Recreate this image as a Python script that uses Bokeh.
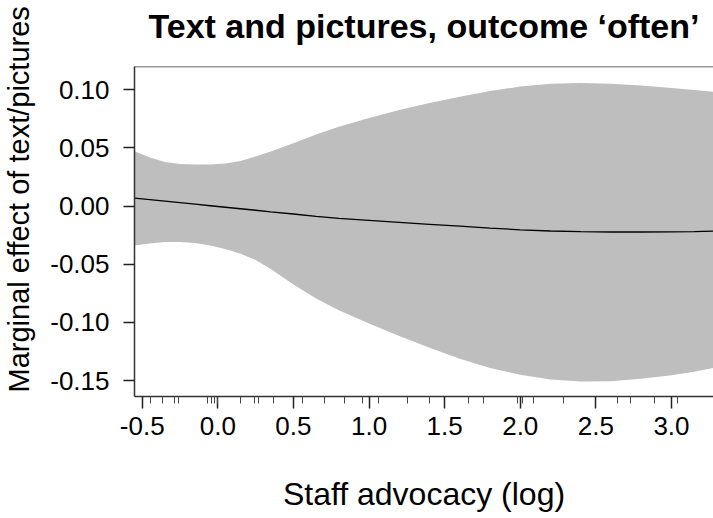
from bokeh.plotting import figure
from bokeh.models import Range1d, FixedTicker, Span, Title
from bokeh.embed import file_html
from bokeh.resources import INLINE

# ---- data ----
x_grid = [-0.55, -0.45, -0.35, -0.25, -0.15, -0.05, 0.05, 0.15, 0.25, 0.35,
          0.5, 0.65, 0.8, 1.0, 1.2, 1.4, 1.6, 1.8, 2.0, 2.2, 2.4, 2.6, 2.8,
          3.0, 3.15, 3.28]
upper = [0.0472, 0.0418, 0.0379, 0.0362, 0.0358, 0.0358, 0.0366, 0.0388,
         0.0427, 0.0470, 0.0540, 0.0615, 0.0681, 0.0757, 0.0825, 0.0887,
         0.0941, 0.0989, 0.1027, 0.1051, 0.1059, 0.1052, 0.1036, 0.1016,
         0.0999, 0.0982]
lower = [-0.0339, -0.0322, -0.0309, -0.0309, -0.0317, -0.0339, -0.0369,
         -0.0410, -0.0463, -0.0540, -0.0675, -0.0795, -0.0895, -0.1010,
         -0.1116, -0.1218, -0.1312, -0.1392, -0.1451, -0.1491, -0.1507,
         -0.1505, -0.1485, -0.1455, -0.1424, -0.1390]
effect = [0.0068, 0.0055, 0.0042, 0.0029, 0.0016, 0.0003, -0.0010, -0.0023,
          -0.0036, -0.0049, -0.0068, -0.0088, -0.0106, -0.0123, -0.0140,
          -0.0157, -0.0173, -0.0189, -0.0204, -0.0214, -0.0220, -0.0223,
          -0.0223, -0.0221, -0.0219, -0.0216]
rug = [-0.445, -0.364, -0.284, -0.262, -0.070, -0.042, -0.020, -0.004, 0.150,
       0.245, 0.267, 0.370, 0.558, 0.708, 0.840, 0.959, 1.065, 1.253, 1.400,
       1.656, 1.759, 1.980, 2.017, 2.090, 2.288, 2.641, 2.729, 2.890, 3.038]
x_ticks = [-0.5, 0.0, 0.5, 1.0, 1.5, 2.0, 2.5, 3.0]
y_ticks = [0.10, 0.05, 0.00, -0.05, -0.10, -0.15]

FONT = "Liberation Sans"

p = figure(width=713, height=518, output_backend="svg", toolbar_location=None,
           x_range=Range1d(-0.551, 3.278), y_range=Range1d(-0.1637, 0.1200),
           min_border_left=134, min_border_right=0, min_border_top=66,
           min_border_bottom=122)

p.title.text = "Text and pictures, outcome \u2018often\u2019"
p.title.text_font = FONT
p.title.text_font_style = "bold"
p.title.text_font_size = "34px"
p.title.text_color = "black"
p.title.align = "center"
p.title.vertical_align = "bottom"
p.title.standoff = 0
p.title.padding = dict(left=0, right=0, top=0, bottom=22)

p.grid.visible = False
p.outline_line_color = None
p.background_fill_color = "white"
p.border_fill_color = "white"

p.varea(x=x_grid, y1=lower, y2=upper, fill_color="#bebebe", fill_alpha=1.0)
p.line(x=x_grid, y=effect, line_color="black", line_width=1.3)

# top border of the box
p.add_layout(Span(location=0.1200, dimension="width", line_color="#333333",
                  line_width=1.5))

xa = p.xaxis[0]
xa.ticker = FixedTicker(ticks=x_ticks, minor_ticks=rug)
xa.major_label_overrides = {t: f"{t:.1f}" for t in x_ticks}
xa.axis_line_color = "#333333"
xa.axis_line_width = 1.5
xa.major_tick_line_color = "#222222"
xa.major_tick_line_width = 1.5
xa.major_tick_in = 0
xa.major_tick_out = 12
xa.minor_tick_line_color = "#444444"
xa.minor_tick_line_width = 1
xa.minor_tick_in = 0
xa.minor_tick_out = 7
xa.major_label_text_font = FONT
xa.major_label_text_font_size = "26px"
xa.major_label_text_color = "black"
xa.major_label_standoff = 8
xa.axis_label = "Staff advocacy (log)"
xa.axis_label_text_font = FONT
xa.axis_label_text_font_size = "32px"
xa.axis_label_text_font_style = "normal"
xa.axis_label_text_color = "black"
xa.axis_label_standoff = 38

ya = p.yaxis[0]
ya.ticker = FixedTicker(ticks=y_ticks, minor_ticks=[])
ya.major_label_overrides = {t: f"{t:.2f}" for t in y_ticks}
ya.axis_line_color = "#333333"
ya.axis_line_width = 1.5
ya.major_tick_line_color = "#222222"
ya.major_tick_line_width = 1.5
ya.major_tick_in = 0
ya.major_tick_out = 11
ya.minor_tick_out = 0
ya.minor_tick_in = 0
ya.major_label_text_font = FONT
ya.major_label_text_font_size = "26px"
ya.major_label_text_color = "black"
ya.major_label_standoff = 14
ya.major_label_orientation = "horizontal"

ylab = Title(text="Marginal effect of text/pictures", align="left", offset=4,
             vertical_align="bottom", standoff=0,
             padding=dict(left=0, right=0, top=0, bottom=13),
             text_font=FONT, text_font_size="29px", text_font_style="normal",
             text_color="black")
p.add_layout(ylab, "left")

open("out.html", "w").write(file_html(p, INLINE))
